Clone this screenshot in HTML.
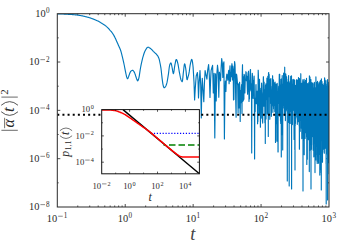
<!DOCTYPE html>
<html><head><meta charset="utf-8"><title>plot</title>
<style>
html,body{margin:0;padding:0;background:#fff;}
svg{display:block;font-family:"Liberation Serif",serif;}
text{fill:#2a2a2a;}
</style></head><body>
<svg width="350" height="245" viewBox="0 0 350 245">
<rect width="350" height="245" fill="#fff"/>
<defs><clipPath id="c"><rect x="57.3" y="13.7" width="271.7" height="193.3"/></clipPath>
<clipPath id="ci"><rect x="101.7" y="109.6" width="97.7" height="64.20000000000002"/></clipPath></defs>
<g stroke="#222" stroke-width="0.8" fill="none">
<path d="M77.75,207.0 v-1.5 M77.75,13.7 v1.5"/>
<path d="M89.71,207.0 v-1.5 M89.71,13.7 v1.5"/>
<path d="M98.19,207.0 v-1.5 M98.19,13.7 v1.5"/>
<path d="M104.78,207.0 v-1.5 M104.78,13.7 v1.5"/>
<path d="M110.16,207.0 v-1.5 M110.16,13.7 v1.5"/>
<path d="M114.70,207.0 v-1.5 M114.70,13.7 v1.5"/>
<path d="M118.64,207.0 v-1.5 M118.64,13.7 v1.5"/>
<path d="M122.12,207.0 v-1.5 M122.12,13.7 v1.5"/>
<path d="M125.22,207.0 v-3 M125.22,13.7 v3"/>
<path d="M145.67,207.0 v-1.5 M145.67,13.7 v1.5"/>
<path d="M157.63,207.0 v-1.5 M157.63,13.7 v1.5"/>
<path d="M166.12,207.0 v-1.5 M166.12,13.7 v1.5"/>
<path d="M172.70,207.0 v-1.5 M172.70,13.7 v1.5"/>
<path d="M178.08,207.0 v-1.5 M178.08,13.7 v1.5"/>
<path d="M182.63,207.0 v-1.5 M182.63,13.7 v1.5"/>
<path d="M186.57,207.0 v-1.5 M186.57,13.7 v1.5"/>
<path d="M190.04,207.0 v-1.5 M190.04,13.7 v1.5"/>
<path d="M193.15,207.0 v-3 M193.15,13.7 v3"/>
<path d="M213.60,207.0 v-1.5 M213.60,13.7 v1.5"/>
<path d="M225.56,207.0 v-1.5 M225.56,13.7 v1.5"/>
<path d="M234.04,207.0 v-1.5 M234.04,13.7 v1.5"/>
<path d="M240.63,207.0 v-1.5 M240.63,13.7 v1.5"/>
<path d="M246.01,207.0 v-1.5 M246.01,13.7 v1.5"/>
<path d="M250.55,207.0 v-1.5 M250.55,13.7 v1.5"/>
<path d="M254.49,207.0 v-1.5 M254.49,13.7 v1.5"/>
<path d="M257.97,207.0 v-1.5 M257.97,13.7 v1.5"/>
<path d="M261.07,207.0 v-3 M261.07,13.7 v3"/>
<path d="M281.52,207.0 v-1.5 M281.52,13.7 v1.5"/>
<path d="M293.48,207.0 v-1.5 M293.48,13.7 v1.5"/>
<path d="M301.97,207.0 v-1.5 M301.97,13.7 v1.5"/>
<path d="M308.55,207.0 v-1.5 M308.55,13.7 v1.5"/>
<path d="M313.93,207.0 v-1.5 M313.93,13.7 v1.5"/>
<path d="M318.48,207.0 v-1.5 M318.48,13.7 v1.5"/>
<path d="M322.42,207.0 v-1.5 M322.42,13.7 v1.5"/>
<path d="M325.89,207.0 v-1.5 M325.89,13.7 v1.5"/>
<path d="M57.3,37.86 h1.4 M329.0,37.86 h-1.4"/>
<path d="M57.3,62.03 h3 M329.0,62.03 h-3"/>
<path d="M57.3,86.19 h1.4 M329.0,86.19 h-1.4"/>
<path d="M57.3,110.35 h3 M329.0,110.35 h-3"/>
<path d="M57.3,134.51 h1.4 M329.0,134.51 h-1.4"/>
<path d="M57.3,158.68 h3 M329.0,158.68 h-3"/>
<path d="M57.3,182.84 h1.4 M329.0,182.84 h-1.4"/>
</g>
<g clip-path="url(#c)">
<path d="M57.3,13.8 57.7,13.8 58.1,13.8 58.5,13.8 58.9,13.8 59.3,13.9 59.7,13.9 60.1,13.9 60.5,13.9 60.9,13.9 61.3,13.9 61.7,13.9 62.1,14.0 62.5,14.0 62.9,14.0 63.3,14.0 63.7,14.0 64.1,14.1 64.5,14.1 64.9,14.1 65.3,14.1 65.7,14.1 66.1,14.2 66.5,14.2 66.9,14.2 67.3,14.2 67.7,14.2 68.1,14.3 68.5,14.3 68.9,14.3 69.3,14.3 69.7,14.4 70.1,14.4 70.5,14.4 70.9,14.4 71.3,14.5 71.7,14.5 72.1,14.5 72.5,14.6 72.9,14.6 73.3,14.6 73.7,14.7 74.1,14.7 74.5,14.7 74.9,14.8 75.3,14.8 75.7,14.9 76.1,14.9 76.5,14.9 76.9,15.0 77.3,15.0 77.7,15.1 78.1,15.1 78.5,15.2 78.9,15.3 79.3,15.3 79.7,15.4 80.1,15.5 80.5,15.5 80.9,15.6 81.3,15.7 81.7,15.8 82.1,15.8 82.5,15.9 82.9,16.0 83.3,16.1 83.7,16.2 84.1,16.3 84.5,16.4 84.9,16.5 85.3,16.6 85.7,16.7 86.1,16.8 86.5,16.9 86.9,17.0 87.3,17.1 87.7,17.2 88.1,17.3 88.5,17.4 88.9,17.5 89.3,17.7 89.7,17.8 90.1,17.9 90.5,18.0 90.9,18.2 91.3,18.3 91.7,18.5 92.1,18.6 92.5,18.7 92.9,18.9 93.3,19.0 93.7,19.2 94.1,19.4 94.5,19.5 94.9,19.7 95.3,19.9 95.7,20.0 96.1,20.2 96.5,20.4 96.9,20.6 97.3,20.7 97.7,20.9 98.1,21.1 98.5,21.3 98.9,21.6 99.3,21.8 99.7,22.0 100.1,22.2 100.5,22.5 100.9,22.7 101.3,23.0 101.7,23.2 102.1,23.5 102.5,23.7 102.9,24.0 103.3,24.2 103.7,24.5 104.1,24.8 104.5,25.0 104.9,25.3 105.3,25.6 105.7,25.9 106.1,26.2 106.5,26.6 106.9,26.9 107.3,27.3 107.7,27.7 108.1,28.1 108.5,28.5 108.9,28.9 109.3,29.4 109.7,29.9 110.1,30.3 110.5,30.8 110.9,31.2 111.3,31.7 111.7,32.2 112.1,32.7 112.5,33.3 112.9,33.9 113.3,34.5 113.7,35.1 114.1,35.9 114.5,36.6 114.9,37.4 115.3,38.2 115.7,39.1 116.1,40.0 116.5,40.9 116.9,41.8 117.3,42.7 117.7,43.6 118.1,44.5 118.5,45.4 118.9,46.3 119.3,47.2 119.7,48.1 120.1,49.0 120.5,50.0 120.9,51.2 121.3,52.6 121.7,54.2 122.1,55.8 122.5,57.4 122.9,59.1 123.3,60.8 123.7,62.6 124.1,64.5 124.5,66.5 124.9,68.6 125.3,70.6 125.7,72.6 126.1,74.5 126.5,76.3 126.9,77.6 127.3,78.6 127.7,78.7 128.1,77.9 128.5,76.9 128.9,75.7 129.3,74.6 129.7,73.5 130.1,72.5 130.5,71.7 130.9,71.2 131.3,70.9 131.7,70.6 132.1,70.4 132.5,70.3 132.9,70.4 133.3,70.7 133.7,71.3 134.1,71.9 134.5,72.6 134.9,73.6 135.3,74.7 135.7,76.0 136.1,77.2 136.5,78.5 136.9,79.6 137.3,80.4 137.7,80.8 138.1,80.3 138.5,79.3 138.9,77.8 139.3,75.8 139.7,73.1 140.1,70.3 140.5,68.0 140.9,65.9 141.3,63.9 141.7,62.1 142.1,60.3 142.5,58.6 142.9,57.1 143.3,55.8 143.7,54.5 144.1,53.3 144.5,52.2 144.9,51.3 145.3,50.5 145.7,49.8 146.1,49.1 146.5,48.5 146.9,47.9 147.3,47.5 147.7,47.3 148.1,47.2 148.5,47.3 148.9,47.4 149.3,47.7 149.7,47.9 150.1,48.2 150.5,48.5 150.9,48.8 151.3,49.2 151.7,49.5 152.1,50.0 152.5,50.4 152.9,50.8 153.3,51.3 153.7,51.7 154.1,52.1 154.5,52.5 154.9,52.8 155.3,53.2 155.7,53.5 156.1,53.9 156.5,54.3 156.9,54.8 157.3,55.3 157.7,55.8 158.1,56.5 158.5,57.4 158.9,58.3 159.3,59.6 159.7,61.5 160.1,63.5 160.5,65.5 160.9,67.8 161.3,71.0 161.7,74.8 162.1,78.4 162.5,81.4 162.9,84.1 163.3,86.0 163.7,87.1 164.1,87.8 164.5,87.7 164.9,87.3 165.3,86.9 165.7,86.2 166.1,85.4 166.5,84.3 166.9,82.9 167.3,81.0 167.7,78.7 168.1,76.2 168.5,73.6 168.9,70.3 169.3,67.0 169.7,65.0 170.1,64.0 170.5,63.2 170.9,62.9 171.3,63.7 171.7,65.5 172.1,67.5 172.5,69.6 172.9,72.1 173.3,73.6 173.7,73.0 174.1,70.4 174.5,67.3 174.9,64.9 175.3,62.8 175.7,60.8 176.1,59.6 176.5,59.5 176.9,60.3 177.3,61.5 177.7,62.9 178.1,64.7 178.5,67.0 178.9,69.5 179.3,71.8 179.7,73.9 180.1,76.0 180.5,77.9 180.9,79.5 181.3,80.4 181.7,81.2 182.1,81.7 182.5,80.7 182.9,77.1 183.3,73.1 183.7,69.7 184.1,66.0 184.5,63.8 184.9,64.2 185.3,66.0 185.7,68.3 186.1,71.4 186.5,75.9 186.9,79.4 187.3,79.7 187.7,78.2 188.1,76.7 188.5,75.3 188.9,73.6 189.3,71.4 189.7,68.2 190.1,65.4 190.5,63.4 190.9,61.6 191.3,60.1 191.7,59.4 192.1,60.0 192.5,62.1 192.9,65.3 193.1,67.1 194.0,82.0 194.6,100.0 195.3,88.0 196.2,76.0 197.4,72.5 198.0,80.0 198.5,98.0 199.1,84.0 200.0,70.6 200.7,85.0 201.3,118.0 201.8,90.0 202.3,78.3 203.0,90.0 203.8,101.7 204.4,84.0 205.1,70.6 206.0,75.0 206.9,79.1 207.7,70.0 208.6,64.6 209.3,75.0 210.0,97.4 210.6,80.0 211.1,70.6 211.8,68.0 212.6,65.4 213.3,93.0 214.1,73.3 214.8,138.0 215.5,73.8 216.2,101.0 216.8,74.8 217.5,65.2 218.1,70.5 218.8,97.3 219.4,72.2 220.0,75.5 220.6,80.8 221.1,68.2 221.7,58.5 222.3,63.1 222.8,77.4 223.3,64.7 223.9,61.8 224.4,139.0 224.9,92.9 225.4,81.1 225.9,91.5 226.4,77.5 226.8,74.2 227.3,75.7 227.8,80.1 228.2,74.0 228.7,70.3 229.1,83.7 229.5,73.8 230.0,65.8 230.4,81.3 230.8,73.0 231.2,76.8 231.6,66.5 232.0,63.7 232.4,80.0 232.8,66.1 233.2,69.5 233.5,99.9 233.9,99.5 234.3,70.2 234.6,61.6 235.0,64.5 235.4,79.3 235.7,99.2 236.1,117.2 236.4,74.1 236.7,74.9 237.1,78.7 237.4,82.5 237.7,85.7 238.1,113.0 238.4,83.8 238.7,85.6 239.0,108.0 239.3,85.4 239.6,82.2 239.9,89.0 240.2,121.4 240.5,90.5 240.8,94.9 241.1,102.7 241.4,87.4 241.7,84.4 242.0,113.6 242.2,75.8 242.5,64.7 242.8,101.4 243.1,76.6 243.3,100.5 243.6,83.9 243.9,99.3 244.1,74.4 244.4,75.1 244.7,83.6 244.9,92.9 245.2,81.6 245.4,79.7 245.7,80.1 245.9,71.7 246.2,72.3 246.4,79.9 246.6,80.9 246.9,76.2 247.1,81.4 247.4,90.4 247.6,94.2 247.8,78.0 248.1,72.7 248.3,91.7 248.5,71.2 248.7,74.9 249.0,101.4 249.2,80.8 249.4,99.0 249.6,82.0 249.8,82.0 250.1,79.4 250.3,69.9 250.5,69.6 250.7,90.2 250.9,84.7 251.1,83.7 251.3,91.4 251.5,83.8 251.7,153.0 251.9,87.0 252.1,77.2 252.3,73.4 252.5,76.7 252.7,84.3 252.9,94.7 253.1,98.5 253.3,91.2 253.5,88.1 253.7,80.4 253.9,80.1 254.1,76.1 254.2,79.6 254.4,100.9 254.6,159.0 254.8,102.6 255.0,100.9 255.2,111.6 255.3,98.1 255.5,102.0 255.7,97.2 255.9,85.6 256.0,84.6 256.2,96.5 256.4,103.7 256.6,94.9 256.7,98.3 256.9,98.5 257.1,102.2 257.2,91.2 257.4,102.8 257.6,123.8 257.7,105.2 257.9,121.5 258.1,81.4 258.2,70.2 258.4,74.8 258.6,85.0 258.7,88.5 258.9,82.6 259.0,79.5 259.2,113.4 259.3,79.3 259.5,79.4 259.7,93.3 259.8,99.3 260.0,90.6 260.1,91.4 260.3,99.4 260.4,127.2 260.6,102.0 260.7,118.5 260.9,88.4 261.0,88.4 261.2,118.1 261.3,88.6 261.5,89.0 261.6,83.0 261.8,85.6 261.9,94.1 262.0,92.4 262.2,102.8 262.3,108.3 262.5,121.7 262.6,106.0 262.7,123.1 262.9,107.2 263.0,102.7 263.2,94.8 263.3,79.2 263.4,76.7 263.6,82.0 263.7,90.3 263.8,106.2 264.0,88.6 264.1,82.0 264.2,94.3 264.4,102.1 264.5,99.6 264.6,99.2 264.8,92.9 264.9,122.8 265.0,89.7 265.2,95.8 265.3,143.5 265.4,92.7 265.5,85.3 265.7,111.3 265.8,85.4 265.9,83.8 266.0,118.9 266.2,88.3 266.3,86.5 266.4,95.2 266.5,99.1 266.7,97.3 266.8,90.6 266.9,78.2 267.0,94.5 267.1,83.4 267.3,79.2 267.4,114.1 267.5,83.4 267.6,99.1 267.7,83.0 267.8,76.4 268.0,79.8 268.1,109.5 268.2,90.0 268.3,136.4 268.4,86.5 268.5,72.9 268.7,72.5 268.8,81.5 268.9,87.1 269.0,81.2 269.1,74.3 269.2,77.3 269.3,96.6 269.4,92.1 269.6,88.2 269.7,105.5 269.8,119.3 269.9,115.5 270.0,91.3 270.1,85.7 270.2,79.3 270.3,79.4 270.4,97.2 270.5,96.7 270.6,103.3 270.8,85.6 270.9,78.6 271.0,85.6 271.1,92.6 271.2,86.2 271.3,89.2 271.4,116.3 271.5,91.4 271.6,96.3 271.7,105.9 271.8,100.6 271.9,91.1 272.0,93.3 272.1,101.9 272.2,101.0 272.3,90.0 272.4,99.5 272.5,86.9 272.6,75.7 272.7,80.8 272.8,91.8 272.9,112.3 273.0,85.7 273.1,89.7 273.2,95.1 273.3,85.4 273.4,108.7 273.5,79.9 273.6,89.0 273.7,92.7 273.8,82.3 273.9,88.0 274.0,99.5 274.1,87.6 274.2,83.2 274.3,95.3 274.3,105.1 274.4,91.7 274.5,87.1 274.6,101.2 274.7,105.9 274.8,111.7 274.9,111.3 275.0,89.9 275.1,82.0 275.2,90.0 275.3,107.4 275.4,93.1 275.5,106.3 275.5,142.4 275.6,108.4 275.7,109.9 275.8,112.1 275.9,97.8 276.0,90.4 276.1,84.1 276.2,88.3 276.3,123.6 276.3,95.5 276.4,95.1 276.5,98.4 276.6,90.2 276.7,88.8 276.8,100.2 276.9,141.2 277.0,93.5 277.0,113.5 277.1,90.0 277.2,83.4 277.3,87.4 277.4,91.4 277.5,135.0 277.6,91.5 277.6,95.9 277.7,104.9 277.8,117.1 277.9,124.8 278.0,152.0 278.1,152.0 278.1,98.6 278.2,92.2 278.3,94.4 278.4,93.2 278.5,98.6 278.5,103.3 278.6,87.7 278.7,86.1 278.8,89.2 278.9,89.3 279.0,86.0 279.0,103.2 279.1,101.3 279.2,81.0 279.3,74.3 279.4,80.0 279.4,113.4 279.5,101.6 279.6,86.9 279.7,74.2 279.7,77.8 279.8,116.2 279.9,89.3 280.0,97.1 280.1,84.7 280.1,88.9 280.2,100.9 280.3,94.0 280.4,102.3 280.4,91.3 280.5,120.9 280.6,95.5 280.7,123.5 280.7,94.5 280.8,95.3 280.9,91.1 281.0,79.3 281.0,87.3 281.1,95.9 281.2,85.3 281.3,157.0 281.3,79.8 281.4,79.1 281.5,99.3 281.6,87.0 281.6,82.8 281.7,89.0 281.8,127.9 281.9,94.4 281.9,112.8 282.0,134.7 282.1,81.8 282.2,75.5 282.2,80.9 282.3,104.9 282.4,92.8 282.4,88.8 282.5,90.5 282.6,91.2 282.7,100.4 282.7,149.9 282.8,93.3 282.9,88.9 282.9,88.5 283.0,91.2 283.1,88.5 283.1,84.1 283.2,85.3 283.3,89.6 283.4,96.1 283.4,101.8 283.5,82.4 283.6,73.2 283.6,76.4 283.7,101.2 283.8,81.1 283.8,86.2 283.9,105.7 284.0,91.2 284.0,108.1 284.1,79.2 284.2,73.2 284.2,75.8 284.3,91.0 284.4,98.5 284.4,99.8 284.5,115.3 284.6,107.5 284.6,89.2 284.7,67.2 284.8,88.0 284.8,78.2 284.9,97.7 285.0,85.3 285.0,94.9 285.1,77.1 285.2,73.5 285.2,102.5 285.3,80.9 285.4,86.6 285.4,120.6 285.5,106.8 285.6,85.3 285.6,103.8 285.7,75.0 285.8,74.1 285.8,105.3 285.9,75.3 285.9,83.4 286.0,93.7 286.1,91.8 286.1,89.6 286.2,82.4 286.3,109.6 286.3,89.4 286.4,98.6 286.4,87.3 286.5,77.5 286.6,76.8 286.6,82.8 286.7,105.7 286.8,103.6 286.8,110.9 286.9,82.4 286.9,79.1 287.0,92.3 287.1,99.3 287.1,91.7 287.2,92.8 287.2,87.4 287.3,181.0 287.4,87.4 287.4,98.0 287.5,87.8 287.5,92.9 287.6,94.5 287.7,102.0 287.7,82.2 287.8,97.4 287.8,92.9 287.9,91.2 288.0,95.2 288.0,82.0 288.1,83.0 288.1,91.5 288.2,105.3 288.3,102.1 288.3,87.4 288.4,83.1 288.4,88.5 288.5,95.1 288.6,122.5 288.6,75.6 288.7,83.8 288.7,106.5 288.8,103.8 288.8,86.3 288.9,84.9 289.0,108.2 289.0,87.5 289.1,83.7 289.1,86.6 289.2,186.0 289.2,82.7 289.3,89.5 289.4,108.4 289.4,87.7 289.5,85.4 289.5,83.5 289.6,111.5 289.6,110.9 289.7,96.1 289.7,86.9 289.8,107.6 289.9,86.9 289.9,92.0 290.0,95.2 290.0,108.2 290.1,84.1 290.1,81.5 290.2,123.4 290.2,83.5 290.3,89.5 290.4,95.1 290.4,95.9 290.5,95.6 290.5,89.9 290.6,111.3 290.6,81.6 290.7,76.6 290.7,76.4 290.8,78.2 290.8,86.2 290.9,99.4 291.0,83.0 291.0,82.2 291.1,87.5 291.1,91.5 291.2,91.4 291.2,91.7 291.3,93.1 291.3,94.5 291.4,92.5 291.4,85.5 291.5,79.2 291.5,75.7 291.6,189.0 291.6,87.1 291.7,93.6 291.7,87.9 291.8,84.1 291.8,96.0 291.9,94.4 292.0,89.5 292.0,101.0 292.1,95.1 292.1,120.4 292.2,89.6 292.2,87.1 292.3,94.7 292.3,102.5 292.4,102.0 292.4,124.6 292.5,104.0 292.5,103.3 292.6,105.8 292.6,103.5 292.7,104.7 292.7,87.6 292.8,79.7 292.8,80.2 292.9,86.2 292.9,89.4 293.0,86.2 293.0,92.1 293.1,105.3 293.1,90.3 293.2,104.7 293.2,99.4 293.3,96.2 293.3,101.3 293.4,98.7 293.4,95.6 293.5,106.9 293.5,110.3 293.6,91.6 293.6,82.4 293.7,91.7 293.7,88.8 293.8,79.3 293.8,91.9 293.9,94.9 293.9,92.1 294.0,114.1 294.0,120.8 294.1,139.5 294.1,98.7 294.1,88.9 294.2,86.5 294.2,91.0 294.3,111.8 294.3,116.3 294.4,97.5 294.4,85.4 294.5,98.0 294.5,87.0 294.6,83.9 294.6,108.8 294.7,80.2 294.7,84.5 294.8,125.7 294.8,149.6 294.9,91.7 294.9,88.0 295.0,121.1 295.0,170.0 295.0,116.2 295.1,98.3 295.1,103.6 295.2,125.7 295.2,102.4 295.3,85.6 295.3,87.9 295.4,123.6 295.4,91.5 295.5,102.8 295.5,96.8 295.6,95.2 295.6,119.3 295.6,102.9 295.7,96.9 295.7,94.2 295.8,98.6 295.8,117.7 295.9,90.1 295.9,85.2 296.0,91.0 296.0,114.8 296.1,114.2 296.1,113.1 296.1,109.6 296.2,101.3 296.2,95.9 296.3,100.0 296.3,111.8 296.4,92.7 296.4,85.7 296.5,85.9 296.5,99.3 296.5,92.1 296.6,79.7 296.6,81.2 296.7,103.7 296.7,92.3 296.8,94.8 296.8,101.2 296.9,84.5 296.9,85.1 296.9,89.8 297.0,86.7 297.0,81.5 297.1,84.7 297.1,116.7 297.2,85.5 297.2,84.0 297.2,104.8 297.3,89.6 297.3,124.3 297.4,106.0 297.4,86.5 297.5,80.1 297.5,91.9 297.5,93.3 297.6,84.6 297.6,105.3 297.7,91.6 297.7,94.3 297.8,97.1 297.8,83.5 297.8,88.8 297.9,105.5 297.9,99.5 298.0,83.9 298.0,82.1 298.1,102.7 298.1,88.3 298.1,83.6 298.2,95.8 298.2,121.6 298.3,106.7 298.3,86.6 298.4,85.3 298.4,111.2 298.4,82.4 298.5,77.5 298.5,83.9 298.6,102.9 298.6,109.4 298.6,106.1 298.7,99.4 298.7,103.3 298.8,101.1 298.8,99.6 298.8,109.7 298.9,110.7 298.9,116.1 299.0,108.9 299.0,94.4 299.1,97.6 299.1,119.6 299.1,100.5 299.2,126.3 299.2,92.3 299.3,87.3 299.3,100.9 299.3,106.0 299.4,149.2 299.4,95.1 299.5,80.7 299.5,78.5 299.5,83.1 299.6,91.3 299.6,95.1 299.7,92.2 299.7,92.9 299.7,107.4 299.8,111.3 299.8,107.5 299.9,121.1 299.9,107.5 299.9,111.7 300.0,87.6 300.0,83.9 300.1,89.3 300.1,100.3 300.1,108.6 300.2,131.3 300.2,100.9 300.2,88.7 300.3,86.0 300.3,87.4 300.4,92.9 300.4,120.5 300.4,91.8 300.5,85.4 300.5,91.1 300.6,100.0 300.6,90.5 300.6,83.7 300.7,100.6 300.7,81.7 300.8,73.7 300.8,85.5 300.8,90.8 300.9,84.9 300.9,115.6 300.9,84.5 301.0,92.9 301.0,100.3 301.1,90.6 301.1,99.1 301.1,100.9 301.2,88.0 301.2,82.9 301.2,88.1 301.3,114.3 301.3,101.8 301.4,96.1 301.4,102.3 301.4,128.2 301.5,99.5 301.5,93.0 301.5,93.2 301.6,94.7 301.6,93.7 301.7,92.8 301.7,96.6 301.7,108.4 301.8,138.6 301.8,128.4 301.8,119.5 301.9,129.6 301.9,122.6 302.0,101.4 302.0,88.0 302.0,83.5 302.1,90.0 302.1,133.0 302.1,95.4 302.2,102.2 302.2,121.6 302.3,111.0 302.3,93.0 302.3,94.8 302.4,115.6 302.4,95.6 302.4,106.7 302.5,129.0 302.5,110.9 302.5,91.4 302.6,90.5 302.6,94.3 302.6,87.4 302.7,81.4 302.7,92.0 302.8,89.0 302.8,79.7 302.8,104.9 302.9,82.8 302.9,84.4 302.9,100.4 303.0,81.6 303.0,191.0 303.0,91.8 303.1,86.5 303.1,114.2 303.1,91.8 303.2,85.9 303.2,92.5 303.3,133.0 303.3,92.0 303.3,94.5 303.4,110.0 303.4,89.7 303.4,105.9 303.5,92.4 303.5,87.5 303.5,110.3 303.6,103.5 303.6,111.1 303.6,139.8 303.7,100.4 303.7,88.8 303.7,100.2 303.8,93.2 303.8,82.6 303.8,90.7 303.9,128.6 303.9,112.3 304.0,102.1 304.0,87.9 304.0,94.0 304.1,103.2 304.1,81.7 304.1,79.2 304.2,85.9 304.2,102.1 304.2,154.7 304.3,105.3 304.3,89.1 304.3,82.5 304.4,85.9 304.4,116.5 304.4,90.0 304.5,81.8 304.5,82.2 304.5,91.5 304.6,113.9 304.6,86.6 304.6,84.5 304.7,92.2 304.7,97.8 304.7,90.3 304.8,87.4 304.8,100.1 304.8,115.4 304.9,119.5 304.9,108.3 304.9,107.7 305.0,118.4 305.0,112.2 305.0,121.9 305.1,138.5 305.1,90.3 305.1,83.7 305.2,93.5 305.2,112.9 305.2,93.9 305.3,82.9 305.3,93.1 305.3,94.0 305.4,85.8 305.4,115.3 305.4,103.6 305.5,100.2 305.5,80.3 305.5,85.0 305.6,118.6 305.6,96.2 305.6,106.0 305.7,82.5 305.7,82.4 305.7,89.7 305.8,91.5 305.8,88.2 305.8,91.8 305.9,107.8 305.9,125.7 305.9,107.1 306.0,97.1 306.0,97.6 306.0,109.5 306.0,116.8 306.1,98.5 306.1,99.4 306.1,132.7 306.2,113.2 306.2,128.8 306.2,94.6 306.3,92.9 306.3,109.9 306.3,126.6 306.4,96.7 306.4,88.5 306.4,108.1 306.5,87.7 306.5,78.4 306.5,84.5 306.6,137.0 306.6,93.0 306.6,92.1 306.7,109.3 306.7,105.8 306.7,94.5 306.7,99.7 306.8,164.4 306.8,101.7 306.8,96.5 306.9,93.5 306.9,87.9 306.9,86.7 307.0,101.4 307.0,96.5 307.0,83.5 307.1,88.0 307.1,131.3 307.1,96.1 307.2,94.6 307.2,109.4 307.2,117.6 307.2,103.8 307.3,107.1 307.3,159.2 307.3,107.7 307.4,105.7 307.4,119.9 307.4,139.1 307.5,111.4 307.5,101.2 307.5,113.7 307.6,108.0 307.6,96.0 307.6,97.1 307.6,96.6 307.7,90.8 307.7,92.8 307.7,129.4 307.8,85.9 307.8,83.6 307.8,100.9 307.9,112.5 307.9,123.2 307.9,106.4 307.9,105.4 308.0,136.2 308.0,120.9 308.0,95.0 308.1,91.9 308.1,116.3 308.1,105.3 308.2,116.6 308.2,103.0 308.2,100.2 308.2,136.3 308.3,100.0 308.3,106.6 308.3,129.6 308.4,107.5 308.4,105.3 308.4,103.4 308.5,106.6 308.5,139.7 308.5,106.5 308.5,110.6 308.6,117.4 308.6,99.9 308.6,110.5 308.7,107.6 308.7,91.9 308.7,90.5 308.7,99.2 308.8,124.8 308.8,93.6 308.8,90.1 308.9,110.4 308.9,93.4 308.9,82.2 309.0,84.1 309.0,96.9 309.0,128.2 309.0,113.2 309.1,103.4 309.1,99.2 309.1,105.9 309.2,131.5 309.2,110.3 309.2,122.3 309.2,135.0 309.3,103.5 309.3,95.0 309.3,171.6 309.4,83.0 309.4,75.9 309.4,83.6 309.4,109.1 309.5,106.4 309.5,86.5 309.5,87.9 309.6,108.8 309.6,80.3 309.6,81.7 309.6,109.0 309.7,98.8 309.7,97.8 309.7,121.6 309.8,111.2 309.8,103.8 309.8,150.2 309.8,91.8 309.9,88.5 309.9,115.4 309.9,77.8 310.0,77.1 310.0,119.2 310.0,83.1 310.0,86.7 310.1,127.2 310.1,97.0 310.1,109.5 310.1,106.9 310.2,88.8 310.2,87.4 310.2,112.6 310.3,108.1 310.3,121.5 310.3,96.2 310.3,132.0 310.4,83.4 310.4,82.0 310.4,127.7 310.5,85.4 310.5,83.5 310.5,91.7 310.5,96.0 310.6,93.2 310.6,96.8 310.6,111.2 310.6,121.6 310.7,116.9 310.7,144.5 310.7,109.0 310.8,104.2 310.8,124.2 310.8,120.0 310.8,106.4 310.9,94.3 310.9,83.4 310.9,79.5 310.9,85.1 311.0,107.8 311.0,189.0 311.0,135.0 311.1,115.7 311.1,119.6 311.1,117.0 311.1,100.3 311.2,101.8 311.2,120.4 311.2,118.7 311.2,101.0 311.3,95.4 311.3,98.2 311.3,117.5 311.4,122.4 311.4,133.1 311.4,95.5 311.4,87.7 311.5,93.8 311.5,117.6 311.5,149.3 311.5,127.7 311.6,145.0 311.6,103.9 311.6,101.0 311.6,117.6 311.7,122.0 311.7,99.5 311.7,97.1 311.8,124.0 311.8,91.6 311.8,108.5 311.8,89.5 311.9,82.7 311.9,103.4 311.9,102.5 311.9,118.1 312.0,96.8 312.0,93.0 312.0,113.2 312.0,136.8 312.1,106.3 312.1,96.9 312.1,98.2 312.1,95.2 312.2,88.9 312.2,92.3 312.2,128.6 312.3,112.3 312.3,123.1 312.3,96.9 312.3,110.4 312.4,103.1 312.4,97.3 312.4,127.2 312.4,107.5 312.5,98.8 312.5,89.9 312.5,83.1 312.5,86.1 312.6,110.4 312.6,115.4 312.6,130.1 312.6,96.1 312.7,96.1 312.7,104.3 312.7,95.2 312.7,84.2 312.8,83.8 312.8,94.6 312.8,105.5 312.8,95.4 312.9,91.6 312.9,118.7 312.9,93.7 312.9,88.1 313.0,103.3 313.0,122.9 313.0,131.7 313.0,104.6 313.1,93.1 313.1,95.9 313.1,110.3 313.1,139.1 313.2,150.2 313.2,145.5 313.2,107.1 313.3,95.5 313.3,100.6 313.3,120.1 313.3,96.2 313.4,102.7 313.4,118.9 313.4,96.5 313.4,97.7 313.5,108.0 313.5,114.2 313.5,104.2 313.5,93.5 313.6,89.3 313.6,96.5 313.6,131.5 313.6,97.3 313.7,104.7 313.7,139.5 313.7,134.5 313.7,95.3 313.7,90.9 313.8,113.1 313.8,112.5 313.8,156.8 313.8,103.5 313.9,121.5 313.9,103.1 313.9,110.4 313.9,98.2 314.0,87.3 314.0,96.0 314.0,107.7 314.0,94.6 314.1,92.1 314.1,121.4 314.1,82.9 314.1,84.9 314.2,142.5 314.2,104.5 314.2,106.1 314.2,86.3 314.3,97.3 314.3,108.0 314.3,107.4 314.3,97.4 314.4,82.4 314.4,84.1 314.4,94.9 314.4,109.5 314.5,120.6 314.5,126.6 314.5,128.2 314.5,142.9 314.6,101.3 314.6,89.2 314.6,91.8 314.6,113.8 314.7,135.4 314.7,96.9 314.7,87.4 314.7,101.9 314.7,99.1 314.8,91.0 314.8,113.0 314.8,119.9 314.8,122.2 314.9,97.9 314.9,112.4 314.9,103.2 314.9,97.6 315.0,121.8 315.0,172.6 315.0,100.7 315.0,90.5 315.1,104.1 315.1,105.3 315.1,98.9 315.1,147.5 315.2,110.9 315.2,148.2 315.2,117.2 315.2,129.4 315.2,97.9 315.3,102.0 315.3,117.4 315.3,95.9 315.3,95.4 315.4,94.3 315.4,88.5 315.4,88.8 315.4,107.7 315.5,113.1 315.5,120.2 315.5,108.4 315.5,104.8 315.5,153.6 315.6,119.9 315.6,110.4 315.6,93.3 315.6,99.1 315.7,135.4 315.7,160.0 315.7,121.1 315.7,124.4 315.8,155.0 315.8,115.7 315.8,96.9 315.8,103.8 315.8,107.2 315.9,95.1 315.9,119.2 315.9,81.6 315.9,76.9 316.0,84.0 316.0,98.3 316.0,104.6 316.0,99.9 316.1,97.8 316.1,98.6 316.1,103.8 316.1,137.2 316.1,110.3 316.2,111.8 316.2,134.8 316.2,117.9 316.2,127.4 316.3,110.2 316.3,145.9 316.3,105.6 316.3,128.7 316.4,104.6 316.4,109.2 316.4,110.7 316.4,103.6 316.4,112.9 316.5,90.9 316.5,102.8 316.5,103.7 316.5,94.1 316.6,112.5 316.6,125.3 316.6,121.5 316.6,112.2 316.6,94.6 316.7,90.7 316.7,110.5 316.7,105.0 316.7,108.6 316.8,104.0 316.8,92.5 316.8,132.9 316.8,87.4 316.8,82.5 316.9,100.5 316.9,97.5 316.9,87.7 316.9,99.6 317.0,114.8 317.0,94.9 317.0,96.8 317.0,112.5 317.0,161.2 317.1,146.3 317.1,126.5 317.1,114.1 317.1,125.4 317.2,141.6 317.2,163.5 317.2,109.6 317.2,103.4 317.2,154.4 317.3,98.7 317.3,96.8 317.3,161.7 317.3,99.4 317.4,107.1 317.4,109.9 317.4,96.0 317.4,110.3 317.4,115.3 317.5,111.7 317.5,112.9 317.5,88.0 317.5,81.4 317.6,82.9 317.6,89.8 317.6,94.6 317.6,88.7 317.6,82.2 317.7,82.8 317.7,92.3 317.7,106.4 317.7,106.6 317.7,111.4 317.8,105.8 317.8,84.8 317.8,87.0 317.8,141.5 317.9,89.9 317.9,100.1 317.9,100.8 317.9,90.3 317.9,113.5 318.0,101.4 318.0,102.5 318.0,115.7 318.0,88.7 318.0,82.6 318.1,84.4 318.1,98.0 318.1,110.9 318.1,91.8 318.2,101.5 318.2,111.6 318.2,96.6 318.2,108.7 318.2,128.6 318.3,98.4 318.3,84.6 318.3,88.6 318.3,127.6 318.3,89.2 318.4,95.4 318.4,126.6 318.4,105.7 318.4,142.1 318.4,107.8 318.5,163.2 318.5,104.2 318.5,107.4 318.5,138.9 318.6,116.0 318.6,93.7 318.6,92.3 318.6,127.1 318.6,97.9 318.7,96.3 318.7,115.8 318.7,137.3 318.7,120.7 318.7,108.9 318.8,101.9 318.8,106.7 318.8,122.2 318.8,118.5 318.8,111.4 318.9,135.0 318.9,92.7 318.9,90.0 318.9,146.2 319.0,90.4 319.0,91.3 319.0,133.1 319.0,112.7 319.0,139.4 319.1,109.8 319.1,154.4 319.1,102.7 319.1,104.6 319.1,132.5 319.2,143.7 319.2,127.5 319.2,139.3 319.2,134.2 319.2,150.4 319.3,113.9 319.3,108.4 319.3,111.4 319.3,102.6 319.3,93.4 319.4,99.6 319.4,108.1 319.4,84.3 319.4,82.7 319.4,92.4 319.5,108.9 319.5,113.9 319.5,109.4 319.5,109.7 319.5,112.6 319.6,116.0 319.6,123.5 319.6,134.7 319.6,131.6 319.6,118.7 319.7,115.5 319.7,118.0 319.7,130.9 319.7,113.2 319.7,89.1 319.8,81.9 319.8,89.6 319.8,127.1 319.8,97.7 319.8,175.1 319.9,92.3 319.9,93.3 319.9,128.3 319.9,138.0 320.0,105.8 320.0,94.6 320.0,104.9 320.0,137.8 320.0,119.9 320.1,107.9 320.1,150.6 320.1,104.3 320.1,106.4 320.1,149.4 320.2,138.9 320.2,114.6 320.2,120.2 320.2,100.2 320.2,84.6 320.2,84.4 320.3,89.3 320.3,89.4 320.3,90.7 320.3,134.7 320.3,86.3 320.4,80.5 320.4,98.6 320.4,96.2 320.4,88.4 320.4,107.7 320.5,109.9 320.5,101.8 320.5,105.1 320.5,103.0 320.5,102.8 320.6,150.0 320.6,93.6 320.6,82.6 320.6,83.8 320.6,96.1 320.7,130.4 320.7,169.6 320.7,118.2 320.7,110.2 320.7,133.0 320.8,116.0 320.8,110.1 320.8,131.5 320.8,127.8 320.8,141.4 320.9,116.5 320.9,105.0 320.9,114.3 320.9,121.0 320.9,99.6 321.0,100.0 321.0,120.6 321.0,130.6 321.0,132.1 321.0,95.2 321.1,86.8 321.1,93.5 321.1,140.5 321.1,95.6 321.1,98.3 321.1,172.8 321.2,102.1 321.2,105.5 321.2,131.9 321.2,101.0 321.2,104.0 321.3,153.7 321.3,107.7 321.3,190.0 321.3,118.7 321.3,100.2 321.4,83.6 321.4,78.9 321.4,89.2 321.4,109.9 321.4,87.4 321.5,98.2 321.5,103.2 321.5,86.0 321.5,86.1 321.5,88.8 321.5,86.1 321.6,83.7 321.6,90.1 321.6,134.2 321.6,98.7 321.6,95.8 321.7,107.2 321.7,125.8 321.7,121.2 321.7,111.5 321.7,116.3 321.8,140.6 321.8,104.9 321.8,99.0 321.8,108.2 321.8,135.0 321.9,108.4 321.9,123.4 321.9,119.7 321.9,134.0 321.9,97.7 321.9,85.7 322.0,96.3 322.0,98.1 322.0,81.6 322.0,88.8 322.0,127.5 322.1,94.6 322.1,100.6 322.1,112.2 322.1,102.7 322.1,98.3 322.2,139.6 322.2,92.4 322.2,86.5 322.2,97.4 322.2,134.5 322.2,133.4 322.3,105.8 322.3,103.6 322.3,133.7 322.3,104.0 322.3,89.2 322.4,84.0 322.4,88.6 322.4,140.7 322.4,90.1 322.4,86.3 322.4,103.9 322.5,116.1 322.5,112.6 322.5,162.2 322.5,155.2 322.5,105.3 322.6,98.2 322.6,108.6 322.6,146.5 322.6,142.4 322.6,115.1 322.6,112.2 322.7,130.2 322.7,129.4 322.7,111.2 322.7,104.4 322.7,101.4 322.8,98.2 322.8,91.8 322.8,85.9 322.8,85.3 322.8,94.6 322.8,134.3 322.9,114.2 322.9,116.4 322.9,124.2 322.9,116.4 322.9,110.5 323.0,115.6 323.0,130.5 323.0,149.3 323.0,143.8 323.0,114.4 323.0,104.5 323.1,110.1 323.1,143.7 323.1,107.0 323.1,112.8 323.1,111.9 323.2,89.0 323.2,86.9 323.2,110.8 323.2,93.4 323.2,85.7 323.2,102.6 323.3,108.6 323.3,109.8 323.3,108.4 323.3,97.5 323.3,137.9 323.4,103.0 323.4,111.7 323.4,131.6 323.4,133.1 323.4,92.8 323.4,86.5 323.5,93.5 323.5,104.5 323.5,102.0 323.5,101.4 323.5,137.5 323.6,102.9 323.6,98.2 323.6,106.8 323.6,122.1 323.6,135.1 323.6,98.5 323.7,88.6 323.7,95.3 323.7,138.1 323.7,103.5 323.7,144.4 323.7,99.1 323.8,92.5 323.8,94.0 323.8,94.2 323.8,96.8 323.8,123.7 323.9,100.6 323.9,88.7 323.9,85.8 323.9,83.7 323.9,84.1 323.9,95.4 324.0,123.8 324.0,100.3 324.0,119.7 324.0,126.7 324.0,122.0 324.0,95.3 324.1,97.5 324.1,133.1 324.1,152.2 324.1,95.5 324.1,84.8 324.1,92.6 324.2,135.4 324.2,100.6 324.2,110.8 324.2,152.4 324.2,132.4 324.3,116.7 324.3,153.2 324.3,105.0 324.3,100.2 324.3,140.2 324.3,94.5 324.4,84.1 324.4,87.6 324.4,114.0 324.4,106.2 324.4,108.8 324.4,111.0 324.5,93.8 324.5,112.8 324.5,92.7 324.5,81.2 324.5,89.5 324.5,120.4 324.6,94.1 324.6,142.2 324.6,84.8 324.6,77.9 324.6,92.5 324.6,93.6 324.7,78.3 324.7,81.8 324.7,94.9 324.7,97.3 324.7,87.4 324.7,90.2 324.8,111.4 324.8,79.0 324.8,79.6 324.8,136.8 324.8,83.2 324.9,83.1 324.9,107.7 324.9,138.1 324.9,105.7 324.9,91.0 324.9,104.0 325.0,111.3 325.0,113.0 325.0,98.4 325.0,83.9 325.0,89.9 325.0,148.3 325.1,101.7 325.1,103.1 325.1,112.5 325.1,113.0 325.1,108.5 325.1,108.6 325.2,117.3 325.2,138.4 325.2,100.8 325.2,92.5 325.2,100.0 325.2,135.3 325.3,101.5 325.3,108.4 325.3,147.3 325.3,116.2 325.3,119.1 325.3,116.6 325.4,107.2 325.4,103.8 325.4,106.5 325.4,109.2 325.4,109.0 325.4,109.3 325.5,108.9 325.5,106.5 325.5,114.6 325.5,113.7 325.5,90.1 325.5,88.4 325.6,106.1 325.6,131.5 325.6,129.5 325.6,93.7 325.6,89.9 325.6,107.4 325.7,119.0 325.7,116.1 325.7,128.9 325.7,110.1 325.7,125.9 325.7,113.5 325.8,95.7 325.8,91.4 325.8,96.6 325.8,113.2 325.8,125.2 325.8,105.3 325.9,95.1 325.9,99.4 325.9,140.9 325.9,110.4 325.9,108.6 325.9,131.8 326.0,110.8 326.0,91.2 326.0,84.9 326.0,92.8 326.0,110.6 326.0,82.2 326.0,80.5 326.1,95.8 326.1,118.7 326.1,104.2 326.1,163.8 326.1,105.9 326.1,117.9 326.2,100.6 326.2,85.1 326.2,204.0 326.2,114.8 326.2,114.3 326.2,144.8 326.3,91.6 326.3,84.1 326.3,88.9 326.3,103.2 326.3,129.7 326.3,120.7 326.4,98.2 326.4,92.5 326.4,104.5 326.4,110.1 326.4,89.9 326.4,89.4 326.5,102.4 326.5,132.4 326.5,104.0 326.5,112.5 326.5,114.7 326.5,94.6 326.6,94.3 326.6,102.3 326.6,107.1 326.6,107.0 326.6,126.0 326.6,114.2 326.6,111.8 326.7,116.8 326.7,93.7 326.7,96.5 326.7,128.2 326.7,123.1 326.7,148.5 326.8,116.2 326.8,100.7 326.8,90.2 326.8,86.1 326.8,95.5 326.8,122.0 326.9,99.2 326.9,146.4 326.9,89.1 326.9,88.5 326.9,145.2 326.9,93.0 326.9,92.9 327.0,109.6 327.0,120.8 327.0,108.2 327.0,113.5 327.0,115.0 327.0,95.0 327.1,100.8 327.1,127.3 327.1,96.6 327.1,96.7 327.1,107.3 327.1,111.2 327.2,100.8 327.2,95.4 327.2,99.8 327.2,111.5 327.2,111.1 327.2,98.4 327.2,93.2 327.3,100.5 327.3,154.0 327.3,99.0 327.3,92.4 327.3,96.8 327.3,122.6 327.4,106.7 327.4,93.5 327.4,94.0 327.4,107.4 327.4,137.8 327.4,111.2 327.5,129.3 327.5,106.8 327.5,92.4 327.5,94.6 327.5,117.7 327.5,126.9 327.5,127.5 327.6,118.7 327.6,92.1 327.6,79.5 327.6,200.0 327.6,91.3 327.6,115.4 327.7,108.7 327.7,96.8 327.7,105.1 327.7,137.9 327.7,125.8 327.7,117.0 327.7,105.1 327.8,114.2 327.8,110.0 327.8,92.6 327.8,88.6 327.8,108.9 327.8,102.1 327.9,97.4 327.9,147.1 327.9,102.8 327.9,98.5 327.9,99.1 327.9,101.1 327.9,132.0 328.0,97.6 328.0,88.1 328.0,96.5 328.0,131.5 328.0,173.7 328.0,132.3 328.1,140.6 328.1,105.4 328.1,108.7 328.1,130.5 328.1,109.9 328.1,150.8 328.1,120.9 328.2,138.2 328.2,106.5 328.2,130.2 328.2,100.9 328.2,93.5 328.2,107.2 328.2,141.5 328.3,120.2 328.3,116.4 328.3,104.8 328.3,101.2 328.3,117.9 328.3,130.5 328.4,153.7 328.4,99.6 328.4,93.7 328.4,116.1 328.4,102.6 328.4,94.1 328.4,102.7 328.5,118.5 328.5,114.3 328.5,103.1 328.5,99.4 328.5,100.8 328.5,108.2 328.5,142.0 328.6,95.0 328.6,86.1 328.6,92.9 328.6,162.7 328.6,102.6 328.6,124.0 328.7,105.7 328.7,103.3 328.7,153.7 328.7,103.6 328.7,104.7 328.7,115.5 328.7,117.5 328.8,118.7 328.8,152.9 328.8,151.9 328.8,112.8 328.8,97.0 328.8,111.2 328.8,96.5 328.9,82.4 328.9,88.5 328.9,160.1 328.9,99.7 328.9,105.3 328.9,147.8 329.0,132.7 329.0,125.5 329.0,110.4 329.0,102.7" fill="none" stroke="#0077bb" stroke-width="1.15" stroke-linejoin="round"/>
<path d="M57.3,114.8 H329.0" stroke="#000" stroke-width="2" stroke-dasharray="2 3.14" fill="none"/>
</g>
<rect x="57.3" y="13.7" width="271.7" height="193.3" fill="none" stroke="#2a2a2a" stroke-width="1.0"/>
<!-- inset -->
<rect x="101.7" y="109.6" width="97.7" height="64.20000000000002" fill="#fff"/>
<g clip-path="url(#ci)" fill="none">
<path d="M123,109.6 L199.4,173.7" stroke="#000" stroke-width="1.4"/>
<path d="M151,133.4 H199.4" stroke="#0000ff" stroke-width="1.4" stroke-dasharray="1.2 1.7"/>
<path d="M163.5,145.0 H199.4" stroke="#008000" stroke-width="1.35" stroke-dasharray="6.5 3" stroke-dashoffset="4"/>
<path d="M101.7,110.0 102.2,110.0 102.7,110.0 103.2,110.0 103.7,110.0 104.2,110.0 104.7,110.0 105.2,110.0 105.7,110.0 106.2,110.0 106.7,110.0 107.2,110.0 107.7,110.0 108.2,110.0 108.7,110.0 109.2,110.0 109.7,110.0 110.2,110.1 110.7,110.1 111.2,110.1 111.7,110.2 112.2,110.2 112.7,110.3 113.2,110.3 113.7,110.4 114.2,110.5 114.7,110.5 115.2,110.6 115.7,110.7 116.2,110.9 116.7,111.0 117.2,111.1 117.7,111.3 118.2,111.5 118.7,111.7 119.2,111.9 119.7,112.1 120.2,112.3 120.7,112.5 121.2,112.7 121.7,112.9 122.2,113.1 122.7,113.3 123.2,113.6 123.7,113.9 124.2,114.1 124.7,114.4 125.2,114.7 125.7,115.0 126.2,115.3 126.7,115.7 127.2,116.0 127.7,116.3 128.2,116.7 128.7,117.0 129.2,117.3 129.7,117.7 130.2,118.0 130.7,118.4 131.2,118.7 131.7,119.1 132.2,119.4 132.7,119.8 133.2,120.1 133.7,120.5 134.2,120.8 134.7,121.2 135.2,121.5 135.7,121.9 136.2,122.2 136.7,122.6 137.2,122.9 137.7,123.3 138.2,123.6 138.7,124.0 139.2,124.3 139.7,124.7 140.2,125.0 140.7,125.4 141.2,125.7 141.7,126.1 142.2,126.4 142.7,126.8 143.2,127.1 143.7,127.5 144.2,127.8 144.7,128.1 145.2,128.5 145.7,128.8 146.2,129.2 146.7,129.5 147.2,129.9 147.7,130.3 148.2,130.7 148.7,131.0 149.2,131.4 149.7,131.8 150.2,132.2 150.7,132.6 151.2,133.0 151.7,133.4 152.2,133.9 152.7,134.3 153.2,134.7 153.7,135.1 154.2,135.6 154.7,136.0 155.2,136.4 155.7,136.8 156.2,137.3 156.7,137.7 157.2,138.1 157.7,138.6 158.2,139.0 158.7,139.4 159.2,139.8 159.7,140.2 160.2,140.7 160.7,141.1 161.2,141.5 161.7,141.9 162.2,142.3 162.7,142.8 163.2,143.2 163.7,143.6 164.2,144.0 164.7,144.5 165.2,144.9 165.7,145.3 166.2,145.7 166.7,146.1 167.2,146.6 167.7,147.0 168.2,147.4 168.7,147.8 169.2,148.2 169.7,148.6 170.2,149.0 170.7,149.4 171.2,149.9 171.7,150.3 172.2,150.7 172.7,151.1 173.2,151.5 173.7,151.9 174.2,152.3 174.7,152.7 175.2,153.1 175.7,153.5 176.2,153.8 176.7,154.2 177.2,154.5 177.7,154.9 178.2,155.2 178.7,155.6 179.2,155.8 179.7,156.1 180.2,156.3 180.7,156.6 181.2,156.7 181.7,156.8 182.2,156.9 182.7,157.0 183.2,157.1 183.7,157.1 184.2,157.1 184.7,157.1 185.2,157.1 185.7,157.1 186.2,157.1 186.7,157.1 187.2,157.1 187.7,157.1 188.2,157.1 188.7,157.1 189.2,157.1 189.7,157.1 190.2,157.1 190.7,157.1 191.2,157.1 191.7,157.1 192.2,157.1 192.7,157.1 193.2,157.1 193.7,157.1 194.2,157.1 194.7,157.1 195.2,157.1 195.7,157.1 196.2,157.1 196.7,157.1 197.2,157.1 197.7,157.1 198.2,157.1 198.7,157.1 199.2,157.1" stroke="#ff0000" stroke-width="1.5"/>
</g>
<g stroke="#111" stroke-width="0.7" fill="none">
<path d="M115.66,173.8 v-1.2 M115.66,109.6 v1.2"/>
<path d="M129.61,173.8 v-2.2 M129.61,109.6 v2.2"/>
<path d="M143.57,173.8 v-1.2 M143.57,109.6 v1.2"/>
<path d="M157.53,173.8 v-2.2 M157.53,109.6 v2.2"/>
<path d="M171.49,173.8 v-1.2 M171.49,109.6 v1.2"/>
<path d="M185.44,173.8 v-2.2 M185.44,109.6 v2.2"/>
<path d="M101.7,122.75 h1.2 M199.4,122.75 h-1.2"/>
<path d="M101.7,135.90 h2.2 M199.4,135.90 h-2.2"/>
<path d="M101.7,149.05 h1.2 M199.4,149.05 h-1.2"/>
<path d="M101.7,162.20 h2.2 M199.4,162.20 h-2.2"/>
</g>
<rect x="101.7" y="109.6" width="97.7" height="64.20000000000002" fill="none" stroke="#111" stroke-width="1.0"/>
<text x="46.85" y="222.00" font-size="10.4">10</text><path d="M58.15,216.23 h4.6" stroke="#2a2a2a" stroke-width="0.55" fill="none"/><text x="63.75" y="218.10" font-size="7.2">1</text>
<text x="117.82" y="222.00" font-size="10.4">10</text><text x="128.62" y="218.10" font-size="7.2">0</text>
<text x="185.75" y="222.00" font-size="10.4">10</text><text x="196.55" y="218.10" font-size="7.2">1</text>
<text x="253.68" y="222.00" font-size="10.4">10</text><text x="264.47" y="218.10" font-size="7.2">2</text>
<text x="321.60" y="222.00" font-size="10.4">10</text><text x="332.40" y="218.10" font-size="7.2">3</text>
<text x="35.20" y="17.10" font-size="10.4">10</text><text x="46.00" y="13.20" font-size="7.2">0</text>
<text x="29.10" y="65.43" font-size="10.4">10</text><path d="M40.40,59.65 h4.6" stroke="#2a2a2a" stroke-width="0.55" fill="none"/><text x="46.00" y="61.53" font-size="7.2">2</text>
<text x="29.10" y="113.75" font-size="10.4">10</text><path d="M40.40,107.98 h4.6" stroke="#2a2a2a" stroke-width="0.55" fill="none"/><text x="46.00" y="109.85" font-size="7.2">4</text>
<text x="29.10" y="162.08" font-size="10.4">10</text><path d="M40.40,156.30 h4.6" stroke="#2a2a2a" stroke-width="0.55" fill="none"/><text x="46.00" y="158.18" font-size="7.2">6</text>
<text x="29.10" y="210.40" font-size="10.4">10</text><path d="M40.40,204.63 h4.6" stroke="#2a2a2a" stroke-width="0.55" fill="none"/><text x="46.00" y="206.50" font-size="7.2">8</text>
<text x="92.40" y="188.80" font-size="8.7">10</text><path d="M102.00,183.89 h4.5" stroke="#2a2a2a" stroke-width="0.55" fill="none"/><text x="107.50" y="185.50" font-size="6.2">2</text>
<text x="123.21" y="188.80" font-size="8.7">10</text><text x="132.51" y="185.50" font-size="6.2">0</text>
<text x="151.13" y="188.80" font-size="8.7">10</text><text x="160.43" y="185.50" font-size="6.2">2</text>
<text x="179.04" y="188.80" font-size="8.7">10</text><text x="188.34" y="185.50" font-size="6.2">4</text>
<text x="81.40" y="112.40" font-size="8.7">10</text><text x="90.70" y="109.10" font-size="6.2">0</text>
<text x="75.60" y="138.70" font-size="8.7">10</text><path d="M85.20,133.79 h4.5" stroke="#2a2a2a" stroke-width="0.55" fill="none"/><text x="90.70" y="135.40" font-size="6.2">2</text>
<text x="75.60" y="165.00" font-size="8.7">10</text><path d="M85.20,160.09 h4.5" stroke="#2a2a2a" stroke-width="0.55" fill="none"/><text x="90.70" y="161.70" font-size="6.2">4</text>
<text x="190.2" y="240.2" font-size="18.5" font-style="italic" style="fill:#444">t</text>
<text x="148.6" y="200.5" font-size="12" font-style="italic">t</text>
<g transform="translate(14.1,130.4) rotate(-90)">
<path d="M0.1,-12.7 V3.7 M33.3,-12.7 V3.7" stroke="#2a2a2a" stroke-width="0.7" fill="none"/>
<path d="M2.2,-9.5 H12.6" stroke="#2a2a2a" stroke-width="0.65" fill="none"/>
<text x="2.9" y="0" font-size="16" font-style="italic">α</text>
<path d="M18.4,-12.6 Q11.40,-4.50 18.4,3.6" stroke="#2a2a2a" stroke-width="0.8" fill="none" stroke-linecap="round"/>
<text x="18.5" y="0" font-size="17" font-style="italic">t</text>
<path d="M25.4,-12.6 Q32.40,-4.50 25.4,3.6" stroke="#2a2a2a" stroke-width="0.8" fill="none" stroke-linecap="round"/>
<text x="35.6" y="-6.0" font-size="10.8">2</text>
</g>
<g transform="translate(69.2,157.4) rotate(-90)">
<text x="0.7" y="0" font-size="11.8" font-style="italic">p</text>
<text x="7.1" y="1.7" font-size="7.2">1</text>
<text x="10.9" y="1.7" font-size="7.2">,</text>
<text x="13.1" y="1.7" font-size="7.2">1</text>
<path d="M21.4,-9.0 Q16.20,-3.20 21.4,2.6" stroke="#2a2a2a" stroke-width="0.65" fill="none" stroke-linecap="round"/>
<text x="22.3" y="0" font-size="12.4" font-style="italic">t</text>
<path d="M27.0,-9.0 Q32.00,-3.20 27.0,2.6" stroke="#2a2a2a" stroke-width="0.65" fill="none" stroke-linecap="round"/>
</g>
</svg>
</body></html>
